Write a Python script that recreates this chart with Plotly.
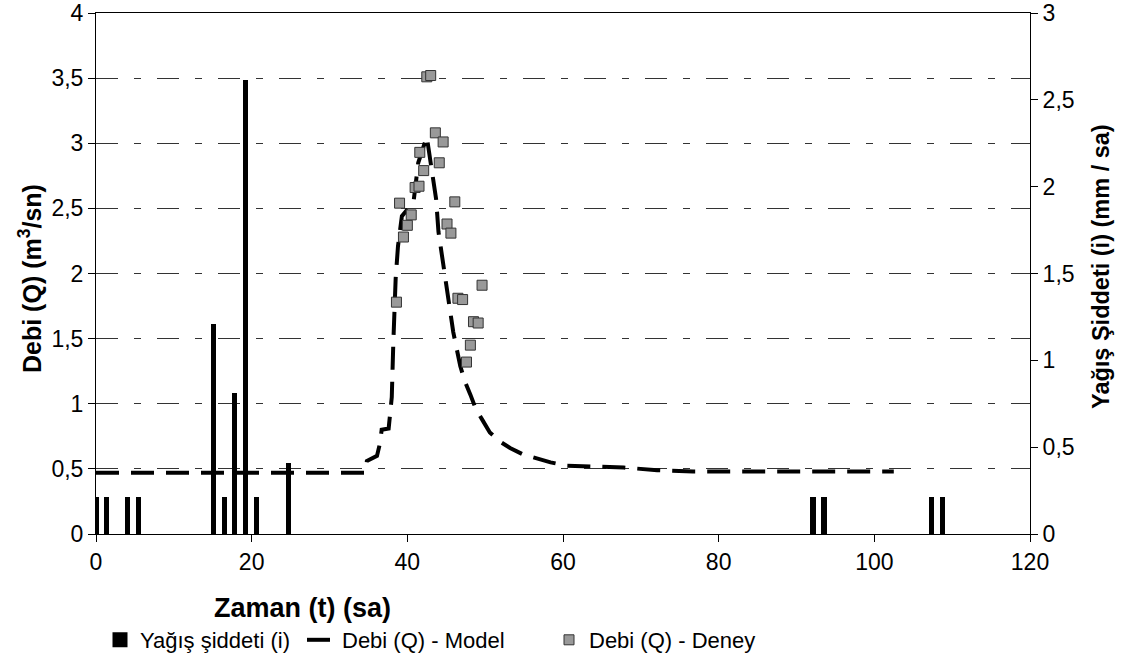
import plotly.graph_objects as go

# ---- Data ----
# Rainfall intensity (right axis, mm/sa)
rain_t = [0.1, 1.45, 4.15, 5.5, 15.2, 16.55, 17.9, 19.3, 20.65, 24.8, 92.2, 93.6, 107.4, 108.8]
rain_i = [0.2, 0.2, 0.2, 0.2, 1.2, 0.2, 0.8, 2.6, 0.2, 0.4, 0.2, 0.2, 0.2, 0.2]

# Model discharge (left axis, m3/sn)
model_t = [0, 34.6, 34.8, 36.1, 36.5, 36.7, 37.6, 38.0, 38.2, 38.5, 38.8, 39.3, 40.8, 41.4, 42.5,
           43.1, 43.4, 43.7, 44.0, 44.4, 44.6, 45.0, 45.3, 45.9, 46.8, 47.4, 48.1, 48.8, 49.6,
           50.6, 51.9, 53.2, 54.9, 56.6, 58.4, 60.5, 63.5, 67.8, 72.1, 76.7, 81.1, 90.0, 102.5]
model_q = [0.47, 0.47, 0.56, 0.60, 0.70, 0.80, 0.81, 1.05, 1.47, 1.96, 2.21, 2.44, 2.55, 2.85, 3.05,
           2.83, 2.70, 2.57, 2.32, 2.16, 2.03, 1.90, 1.80, 1.55, 1.29, 1.17, 1.07, 0.96, 0.88,
           0.78, 0.71, 0.66, 0.61, 0.58, 0.55, 0.525, 0.52, 0.51, 0.49, 0.48, 0.48, 0.48, 0.48]

# Observed discharge (left axis, m3/sn)
obs_t = [38.6, 39.0, 39.5, 40.0, 40.5, 41.0, 41.5, 41.6, 42.1, 42.5, 43.0, 43.6, 44.1, 44.6,
         45.1, 45.6, 46.1, 46.5, 47.1, 47.6, 48.1, 48.5, 49.1, 49.6]
obs_q = [1.78, 2.54, 2.28, 2.37, 2.45, 2.66, 2.67, 2.93, 2.79, 3.51, 3.52, 3.08, 2.85, 3.01,
         2.38, 2.31, 2.55, 1.81, 1.80, 1.32, 1.45, 1.63, 1.62, 1.91]

# Tick labels
x_ticks = [0, 20, 40, 60, 80, 100, 120]
left_ticks = [0, 0.5, 1, 1.5, 2, 2.5, 3, 3.5, 4]
left_labels = ["0", "0,5", "1", "1,5", "2", "2,5", "3", "3,5", "4"]
right_ticks = [0, 0.5, 1, 1.5, 2, 2.5, 3]
right_labels = ["0", "0,5", "1", "1,5", "2", "2,5", "3"]

FONT = "Liberation Sans, Arial, sans-serif"
TICK_SIZE = 23
LEGEND_SIZE = 22

fig = go.Figure()

fig.add_trace(go.Scatter(
    x=model_t, y=model_q, mode="lines", name="Debi (Q) - Model",
    line=dict(color="black", width=4, dash="23px,12px"),
    yaxis="y", legend="legend2", showlegend=True,
))
fig.add_trace(go.Scatter(
    x=obs_t, y=obs_q, mode="markers", name="Debi (Q) - Deney",
    marker=dict(symbol="square", size=10, color="#999999", line=dict(color="#333333", width=1)),
    yaxis="y", legend="legend3", showlegend=True,
))
fig.add_trace(go.Bar(
    x=rain_t, y=rain_i, name="Yağış şiddeti (i)", width=0.3,
    marker=dict(color="black", line=dict(color="black", width=3)),
    yaxis="y2", legend="legend", showlegend=True,
))

W, H = 1124, 662
ML, MR, MT, MB = 96, 94, 13, 128
PW = W - ML - MR
PH = H - MT - MB

def px_x(sx):
    return (sx - ML) / PW

def px_y(sy):
    return (H - MB - sy) / PH

legend_common = dict(orientation="h", yanchor="middle", y=px_y(640),
                     font=dict(family=FONT, size=LEGEND_SIZE, color="black"),
                     bgcolor="rgba(0,0,0,0)", borderwidth=0, xanchor="left")

fig.update_layout(
    width=W, height=H,
    margin=dict(l=ML, r=MR, t=MT, b=MB, autoexpand=False),
    paper_bgcolor="white", plot_bgcolor="white",
    font=dict(family=FONT, size=TICK_SIZE, color="black"),
    showlegend=True,
    bargap=0,
    xaxis=dict(
        range=[0, 120], tickvals=x_ticks, ticktext=[str(v) for v in x_ticks],
        showline=True, linecolor="black", linewidth=1, mirror=True,
        ticks="outside", ticklen=7, tickcolor="black",
        showgrid=False, zeroline=False, automargin=False, ticklabeloverflow="allow",
        tickfont=dict(family=FONT, size=TICK_SIZE),
    ),
    yaxis=dict(
        range=[0, 4], tickvals=left_ticks, ticktext=left_labels,
        showline=True, linecolor="black", linewidth=1,
        ticks="outside", ticklen=7, tickcolor="black",
        showgrid=True, gridcolor="#333333", gridwidth=1, griddash="22px,16px,7px,16px",
        zeroline=False, automargin=False, ticklabeloverflow="allow",
        tickfont=dict(family=FONT, size=TICK_SIZE),
    ),
    yaxis2=dict(
        range=[0, 3], tickvals=right_ticks, ticktext=right_labels,
        overlaying="y", side="right",
        showline=True, linecolor="black", linewidth=1,
        ticks="outside", ticklen=7, tickcolor="black",
        showgrid=False, zeroline=False, automargin=False, ticklabeloverflow="allow",
        tickfont=dict(family=FONT, size=TICK_SIZE),
    ),
    legend=dict(x=px_x(100), **legend_common),
    legend2=dict(x=px_x(302), **legend_common),
    legend3=dict(x=px_x(549), **legend_common),
    annotations=[
        dict(text="<b>Zaman (t) (sa)</b>", xref="paper", yref="paper",
             x=px_x(302), y=px_y(608), showarrow=False,
             xanchor="center", yanchor="middle", font=dict(family=FONT, size=27)),
        dict(text="<b>Debi (Q) (m<sup>3</sup>/sn)</b>", xref="paper", yref="paper",
             x=px_x(30), y=px_y(279), showarrow=False, textangle=-90,
             xanchor="center", yanchor="middle", font=dict(family=FONT, size=25)),
        dict(text="<b>Yağış Şiddeti (i) (mm / sa)</b>", xref="paper", yref="paper",
             x=px_x(1101), y=px_y(267), showarrow=False, textangle=-90,
             xanchor="center", yanchor="middle", font=dict(family=FONT, size=23.5)),
    ],
)

fig.write_html("out.html", config={"displayModeBar": False},
               post_script="document.body.style.margin='0';")
